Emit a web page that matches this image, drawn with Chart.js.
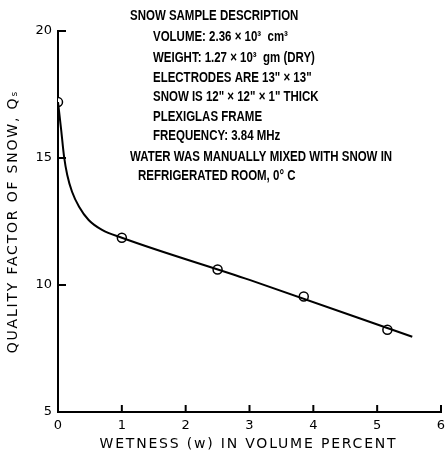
<!DOCTYPE html>
<html>
<head>
<meta charset="utf-8">
<script src="https://cdn.jsdelivr.net/npm/chart.js@4.4.1/dist/chart.umd.min.js"></script>
<style>
html,body{margin:0;padding:0;background:#fff;}
#wrap{width:447px;height:460px;position:relative;}
</style>
</head>
<body>
<div id="wrap"><canvas id="c" width="447" height="460"></canvas></div>
<script>
// Measured data points (wetness %, quality factor)
const pointX = [0, 1.0, 2.5, 3.85, 5.16];
const pointY = [17.2, 11.86, 10.61, 9.55, 8.24];
// Fitted curve drawn in the figure
const curveX = [0, 0.05, 0.095, 0.145, 0.22, 0.33, 0.48, 0.69, 1.0, 3.0, 5.55];
const curveY = [17.2, 16.1, 15.05, 14.33, 13.67, 13.08, 12.56, 12.17, 11.86, 10.2, 7.96];
// Axis ticks
const xTicks = [0, 1, 2, 3, 4, 5, 6];
const yTicks = [5, 10, 15, 20];
const xTitle = 'WETNESS (w) IN VOLUME PERCENT';
const yTitle = 'QUALITY FACTOR OF SNOW, Q\u209b';
const noteLines = [
  ["SNOW SAMPLE DESCRIPTION", 130, 16],
  ["VOLUME: 2.36 \u00d7 10\u00b3  cm\u00b3", 153, 37],
  ["WEIGHT: 1.27 \u00d7 10\u00b3  gm (DRY)", 153, 58],
  ["ELECTRODES ARE 13\" \u00d7 13\"", 153, 78],
  ["SNOW IS 12\" \u00d7 12\" \u00d7 1\" THICK", 153, 97],
  ["PLEXIGLAS FRAME", 153, 117],
  ["FREQUENCY: 3.84 MHz", 153, 136],
  ["WATER WAS MANUALLY MIXED WITH SNOW IN", 130, 157],
  ["REFRIGERATED ROOM, 0\u00b0 C", 138, 176]
];

const tickFont = {family: "'DejaVu Sans', sans-serif", size: 13};

const decorations = {
  id: 'decorations',
  afterDatasetsDraw(chart) {
    const ctx = chart.ctx, xs = chart.scales.x, ys = chart.scales.y;
    ctx.save();
    ctx.strokeStyle = '#000';
    ctx.lineWidth = 2;
    yTicks.forEach(v => {
      if (v === 5) return;
      const y = ys.getPixelForValue(v);
      ctx.beginPath(); ctx.moveTo(xs.left, y); ctx.lineTo(xs.left + 8, y); ctx.stroke();
    });
    xTicks.forEach(v => {
      if (v === 0) return;
      const x = xs.getPixelForValue(v);
      ctx.beginPath(); ctx.moveTo(x, ys.bottom); ctx.lineTo(x, ys.bottom - 7); ctx.stroke();
    });
    ctx.fillStyle = '#000';
    // axis titles
    ctx.font = "14px 'DejaVu Sans', sans-serif";
    ctx.textAlign = 'center';
    ctx.textBaseline = 'middle';
    ctx.save();
    ctx.letterSpacing = '1.8px';
    ctx.fillText(xTitle, (xs.left + xs.right) / 2 - 1, 444);
    ctx.translate(13, (ys.top + ys.bottom) / 2);
    ctx.rotate(-Math.PI / 2);
    ctx.fillText(yTitle, 0, 0);
    ctx.restore();
    // notes
    ctx.font = "bold 14px 'Liberation Sans', sans-serif";
    ctx.textAlign = 'left';
    noteLines.forEach(([t, x, y]) => {
      ctx.save();
      ctx.translate(x, y);
      ctx.scale(0.82, 1);
      ctx.fillText(t, 0, 0);
      ctx.restore();
    });
    ctx.restore();
  }
};

new Chart(document.getElementById('c'), {
  type: 'scatter',
  data: {
    datasets: [
      {
        type: 'line',
        data: curveX.map((x, i) => ({x, y: curveY[i]})),
        borderColor: '#000',
        borderWidth: 2,
        pointRadius: 0,
        cubicInterpolationMode: 'monotone',
        fill: false
      },
      {
        data: pointX.map((x, i) => ({x, y: pointY[i]})),
        pointRadius: 4.5,
        pointBorderWidth: 1.5,
        pointBorderColor: '#000',
        pointBackgroundColor: '#fff'
      }
    ]
  },
  options: {
    responsive: false,
    animation: false,
    layout: {padding: {top: 31, right: 4, left: 0, bottom: 0}},
    plugins: {legend: {display: false}, tooltip: {enabled: false}},
    scales: {
      x: {
        type: 'linear', min: 0, max: 6,
        afterFit(s) { s.height = 48; s.paddingRight = 0; s.paddingLeft = 0; },
        afterBuildTicks(s) { s.ticks = xTicks.map(v => ({value: v})); },
        border: {color: '#000', width: 2},
        grid: {display: false, drawTicks: false},
        ticks: {color: '#000', font: tickFont, padding: 6, maxRotation: 0}
      },
      y: {
        type: 'linear', min: 5, max: 20,
        afterFit(s) { s.width = 58; },
        afterBuildTicks(s) { s.ticks = yTicks.map(v => ({value: v})); },
        border: {color: '#000', width: 2},
        grid: {display: false, drawTicks: false},
        ticks: {color: '#000', font: tickFont, padding: 6}
      }
    }
  },
  plugins: [decorations]
});
</script>
</body>
</html>
